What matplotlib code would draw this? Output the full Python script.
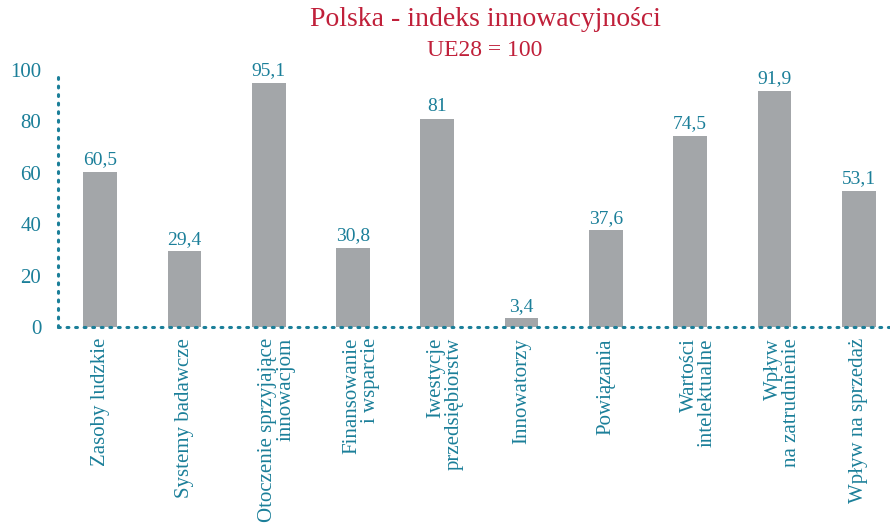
import matplotlib
matplotlib.use("Agg")
import matplotlib.pyplot as plt
from matplotlib.transforms import ScaledTranslation

categories = [
    "Zasoby ludzkie",
    "Systemy badawcze",
    "Otoczenie sprzyjające\ninnowacjom",
    "Finansowanie\ni wsparcie",
    "Iwestycje\nprzedsiębiorstw",
    "Innowatorzy",
    "Powiązania",
    "Wartości\nintelektualne",
    "Wpływ\nna zatrudnienie",
    "Wpływ na sprzedaż",
]
values = [60.5, 29.4, 95.1, 30.8, 81, 3.4, 37.6, 74.5, 91.9, 53.1]
value_labels = ["60,5", "29,4", "95,1", "30,8", "81", "3,4", "37,6", "74,5", "91,9", "53,1"]
yticks = [0, 20, 40, 60, 80, 100]

TEAL = "#1b7f99"
RED = "#c0203a"
GREY = "#a3a6a9"
FONT = "Liberation Serif"

plt.rcParams["font.family"] = FONT

fig = plt.figure(figsize=(8.9, 5.23), dpi=100)
ax = fig.add_axes([58 / 890, 1 - 327 / 523, 1 - 58 / 890, (327 - 70) / 523])

x = list(range(len(values)))
ax.bar(x, values, width=0.4, color=GREY, zorder=2)

for xi, v, lab in zip(x, values, value_labels):
    ax.text(xi, v + 1.3, lab, ha="center", va="bottom", color=TEAL, fontsize=14)

ax.set_xlim(-0.5, 9.37)
ax.set_ylim(0, 100)

for s in ax.spines.values():
    s.set_visible(False)
dot = dict(color=TEAL, linewidth=2.2, linestyle=(0, (0.6, 2.2)), dash_capstyle="round",
           clip_on=False, zorder=3)
ax.plot([-0.5, 9.37], [0, 0], **dot)
ax.plot([-0.5, -0.5], [0, 99], **dot)

ax.set_yticks(yticks)
ax.set_yticklabels([str(t) for t in yticks])
ax.tick_params(axis="y", length=0, pad=12, labelsize=15, labelcolor=TEAL)
ax.set_xticks(x)
ax.set_xticklabels(categories, rotation=90, ha="center", va="top",
                   multialignment="right", linespacing=0.95)
ax.tick_params(axis="x", length=0, pad=8, labelsize=15, labelcolor=TEAL)

# two-line labels sit with their first line over the bar
shift = ScaledTranslation(8 / 100, 0, fig.dpi_scale_trans)
for lbl in ax.get_xticklabels():
    if "\n" in lbl.get_text():
        lbl.set_transform(lbl.get_transform() + shift)

fig.text(485 / 890, 1 - 20 / 523, "Polska - indeks innowacyjności", ha="center", va="center",
         color=RED, fontsize=20)
fig.text(485 / 890, 1 - 50 / 523, "UE28 = 100", ha="center", va="center",
         color=RED, fontsize=17)

fig.savefig("out.png", dpi=100)
